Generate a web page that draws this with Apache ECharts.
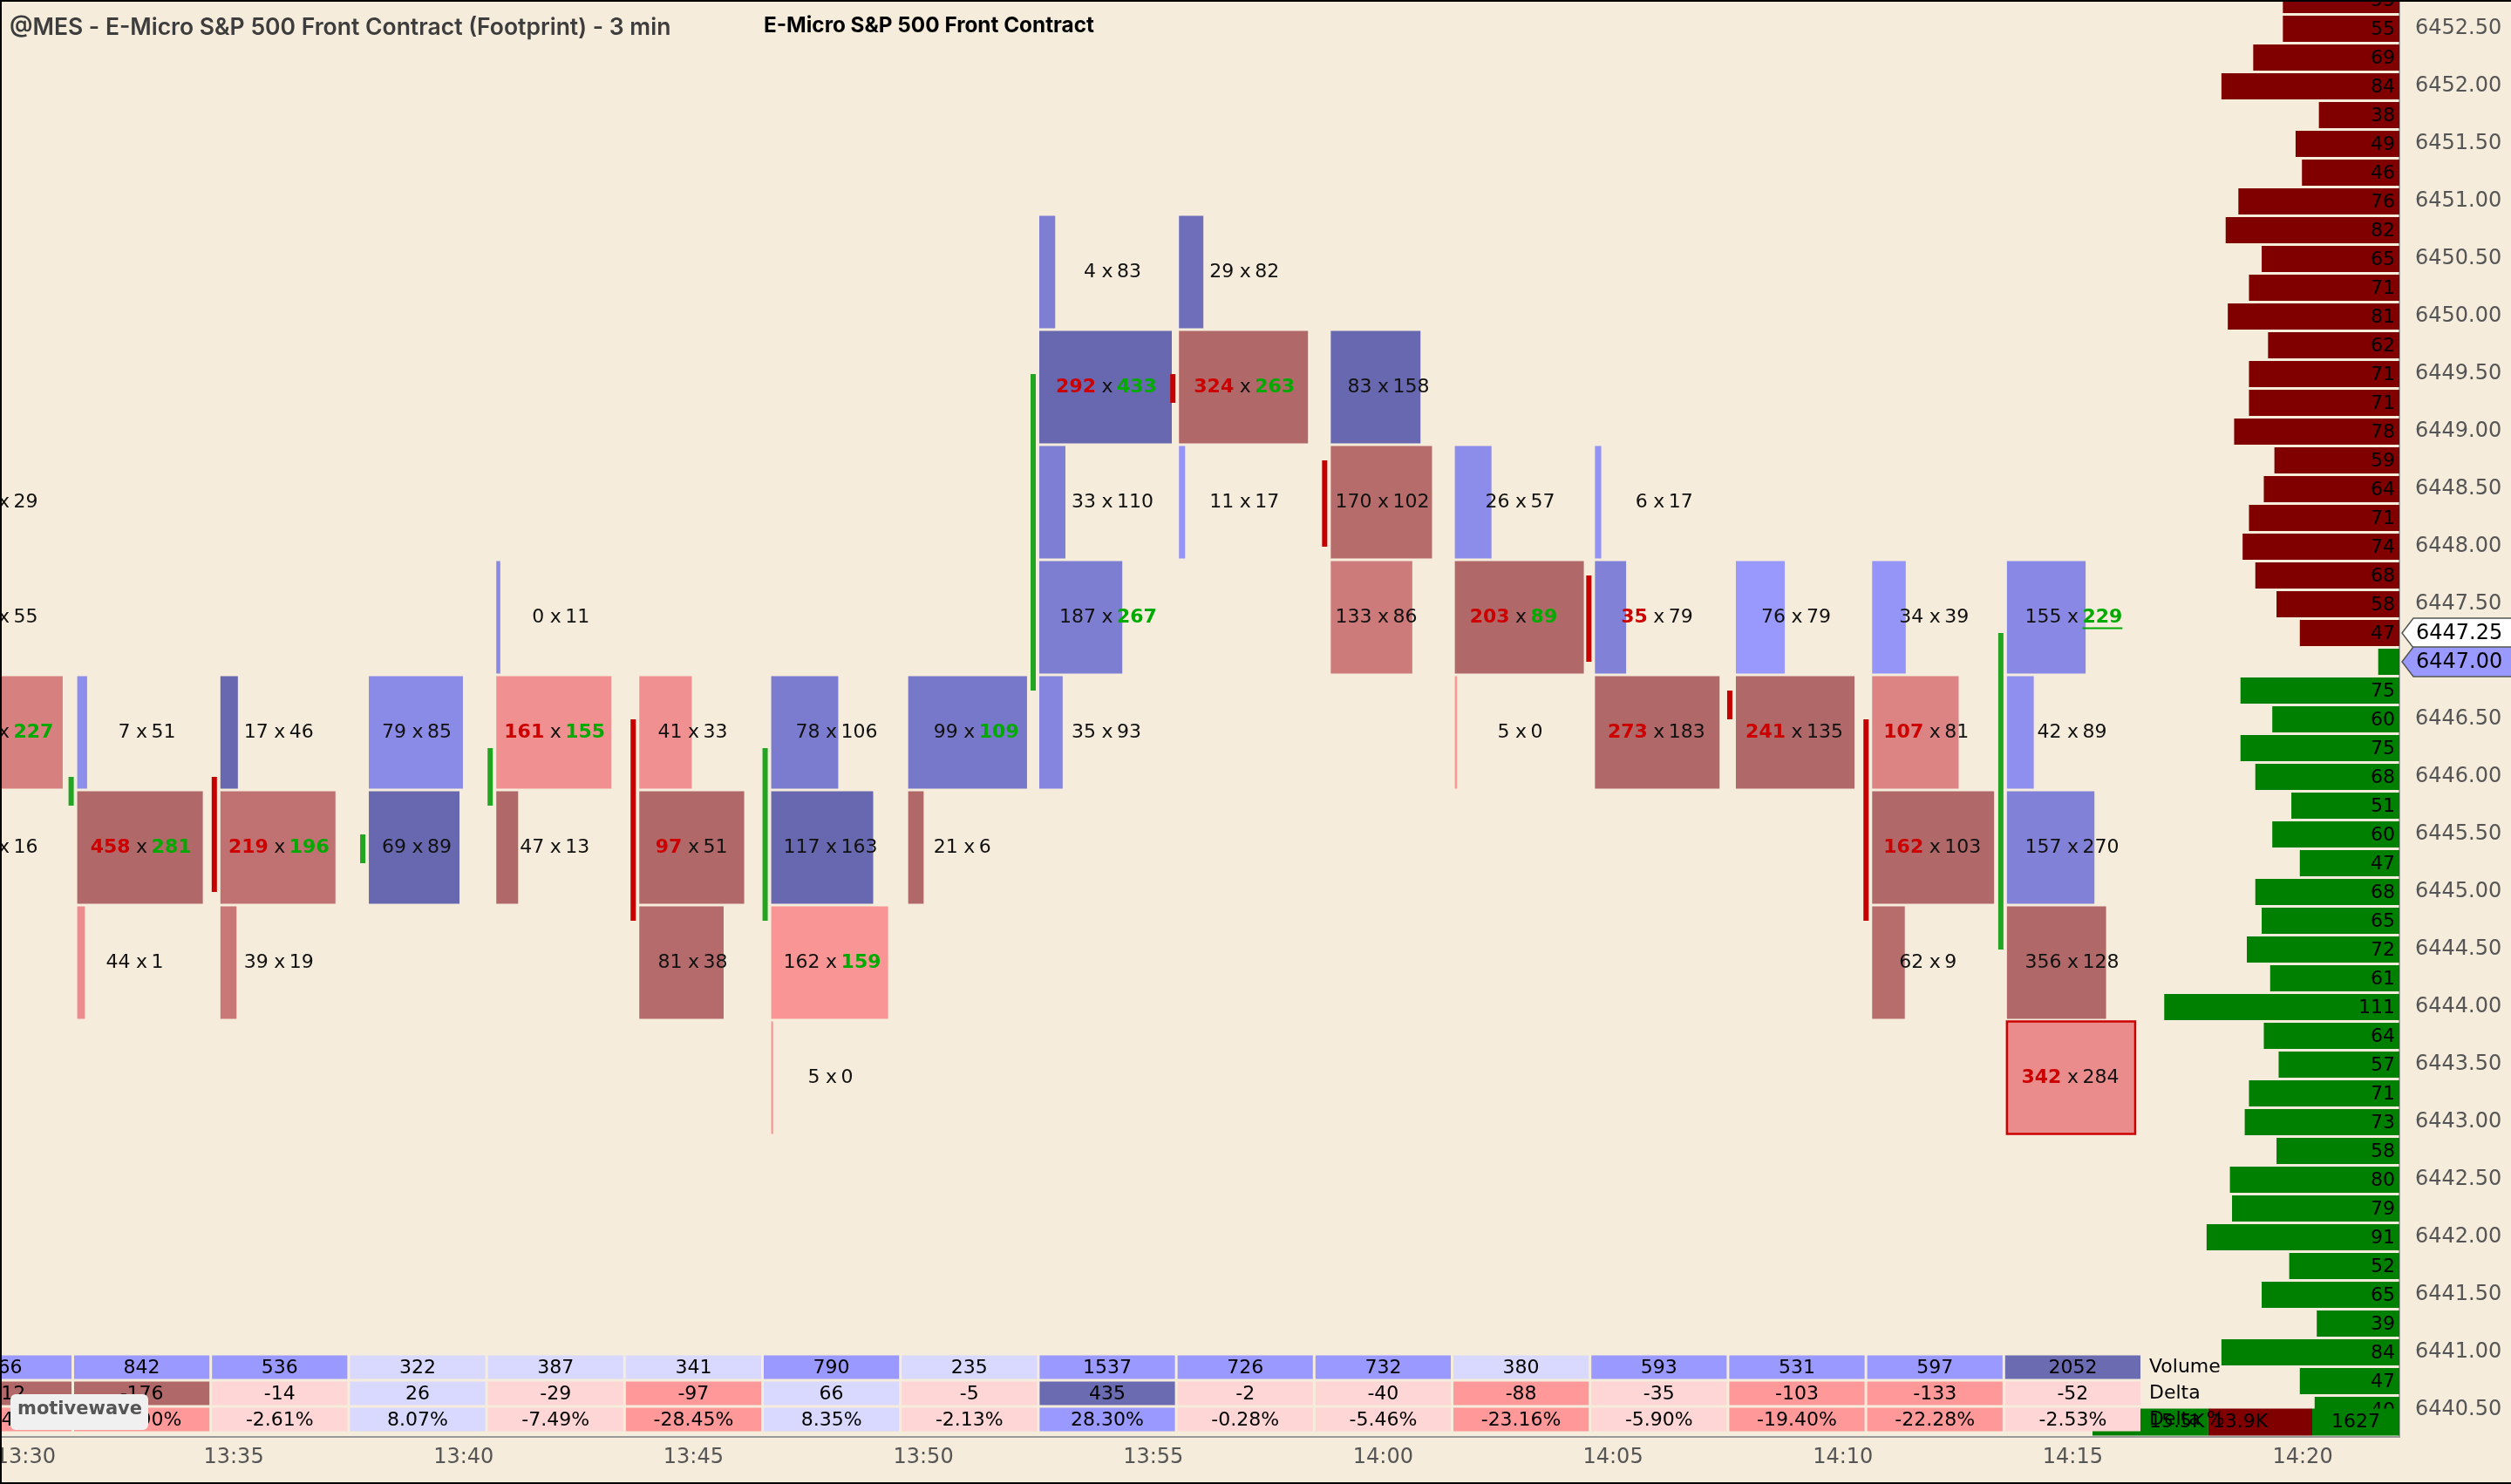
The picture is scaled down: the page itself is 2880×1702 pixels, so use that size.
<!DOCTYPE html>
<html>
<head>
    <title>@MES - E-Micro S&amp;P 500 Front Contract (Footprint) - 3 min</title>
    <meta http-equiv="content-type" content="text/html; charset=utf-8"/>
    <script src="https://cdn.jsdelivr.net/npm/echarts@6.0.0/dist/echarts.min.js"></script>
    <style>
        html, body { margin: 0; padding: 0; background: #f5ecdb; overflow: hidden; }
        #main { width: 100vw; height: 100vh; }
    </style>
</head>
<body>
<div id="main"></div>
<script type="text/javascript">

    // 3 minute bars
    var times = ['13:30', '13:33', '13:36', '13:39', '13:42', '13:45', '13:48', '13:51',
                 '13:54', '13:57', '14:00', '14:03', '14:06', '14:09', '14:12', '14:15'];

    // lowest footprint row of each bar (one row = 1 point = 4 ticks)
    var lowRow = [6445, 6444, 6444, 6445, 6445, 6444, 6443, 6445, 6446, 6448, 6447, 6446, 6446, 6446, 6444, 6443];

    // bid / ask volume of each row, lowest row first
    var bidVol = [
        [99, 269, 90, 81],
        [44, 458, 7],
        [39, 219, 17],
        [69, 79],
        [47, 161, 0],
        [81, 97, 41],
        [5, 162, 117, 78],
        [21, 99],
        [35, 187, 33, 292, 4],
        [11, 324, 29],
        [133, 170, 83],
        [5, 203, 26],
        [273, 35, 6],
        [241, 76],
        [62, 162, 107, 34],
        [342, 356, 157, 42, 155]
    ];
    var askVol = [
        [16, 227, 55, 29],
        [1, 281, 51],
        [19, 196, 46],
        [89, 85],
        [13, 155, 11],
        [38, 51, 33],
        [0, 159, 163, 106],
        [6, 109],
        [93, 267, 110, 433, 83],
        [17, 263, 82],
        [86, 102, 158],
        [0, 89, 57],
        [183, 79, 17],
        [135, 79],
        [9, 103, 81, 39],
        [284, 128, 270, 89, 229]
    ];

    var openPx  = [6447.75, 6445.75, 6446.00, 6445.25, 6445.75, 6446.50, 6444.75, 6446.25,
                   6446.75, 6449.50, 6448.75, 6447.75, 6447.75, 6446.75, 6446.50, 6444.50];
    var closePx = [6445.75, 6446.00, 6445.00, 6445.50, 6446.25, 6444.75, 6446.25, 6446.25,
                   6449.50, 6449.25, 6448.00, 6447.75, 6447.00, 6446.50, 6444.75, 6447.25];

    // row volume that fills a whole column, per bar
    var fullColumnVol = [542, 780, 478, 231, 364, 187, 364, 232, 725, 603, 356, 300, 485, 420, 288, 647];

    // session volume profile, one value per tick from 6452.75 down to 6440.50
    var profileTop = 6452.75;
    var profileVol = [55, 55, 69, 84, 38, 49, 46, 76, 82, 65, 71, 81, 62, 71, 71, 78, 59, 64, 71, 74, 68, 58, 47,
                      10, 75, 60, 75, 68, 51, 60, 47, 68, 65, 72, 61, 111, 64, 57, 71, 73, 58, 80, 79, 91, 52,
                      65, 39, 84, 47, 40];

    var lastPrice = 6447.25;
    var bidPrice = 6447.00;
    var sessionAsk = 15500;
    var sessionBid = 13900;
    var sessionDelta = 1627;

    var timeTicks = ['13:30', '13:35', '13:40', '13:45', '13:50', '13:55', '14:00', '14:05', '14:10', '14:15', '14:20'];
    var priceTicks = [6440.5, 6441, 6441.5, 6442, 6442.5, 6443, 6443.5, 6444, 6444.5, 6445, 6445.5, 6446,
                      6446.5, 6447, 6447.5, 6448, 6448.5, 6449, 6449.5, 6450, 6450.5, 6451, 6451.5, 6452, 6452.5];
    var rowNames = ['Volume', 'Delta', 'Delta %'];

    // ---- layout (pixels of a 2880 wide frame) ----
    var K = window.innerWidth / 2880;
    function S(v) { return v * K; }
    var FONT = 'DejaVu Sans';
    var COL = 158.2, X0 = 4.4, PLOT_W = 2752, PLOT_H = 1648, PT = 132, FULL_W = 152;
    var xMin = -X0 / COL, xMax = xMin + PLOT_W / COL;
    var yMax = 6452.75, yMin = yMax - PLOT_H / PT;
    var profMax = PLOT_W / 2.43;

    function minutesOf(t) { var p = t.split(':'); return (+p[0]) * 60 + (+p[1]); }
    var t0 = minutesOf(times[0]);
    var timeTickPos = timeTicks.map(function (t) { return (minutesOf(t) - t0) / 3; });

    var BLUE_L = [153, 153, 255], BLUE_D = [104, 104, 176];
    var RED_L = [255, 152, 152], RED_D = [176, 104, 104];
    function mix(a, b, t) {
        return 'rgb(' + [0, 1, 2].map(function (k) { return Math.round(a[k] + (b[k] - a[k]) * t); }).join(',') + ')';
    }

    // ---- footprint cells ----
    var cells = [];
    var blockFrac = [];
    var last = times.length - 1;
    for (var i = 0; i < times.length; i++) {
        var b = bidVol[i], a = askVol[i];
        var vols = b.map(function (v, k) { return v + a[k]; });
        var maxVol = Math.max.apply(null, vols);
        var maxAbs = Math.max.apply(null, b.map(function (v, k) { return Math.abs(a[k] - v); }));
        var poc = vols.indexOf(maxVol);
        blockFrac.push(maxVol / fullColumnVol[i]);
        for (var k = 0; k < b.length; k++) {
            var d = a[k] - b[k];
            var askAbove = a[k + 1], bidBelow = b[k - 1];
            cells.push({
                bar: i,
                row: lowRow[i] + k,
                bid: b[k],
                ask: a[k],
                d: d,
                frac: vols[k] / fullColumnVol[i],
                t: maxAbs ? Math.abs(d) / maxAbs : 0,
                bidImb: askAbove !== undefined && askAbove > 0 && b[k] >= 2 * askAbove,
                askImb: bidBelow !== undefined && bidBelow > 0 && a[k] >= 2 * bidBelow,
                poc: i === last && k === poc,
                underline: i === last && Math.floor(closePx[i]) === lowRow[i] + k
            });
        }
    }

    var measureCtx = document.createElement('canvas').getContext('2d');
    function textWidth(str, bold) {
        measureCtx.font = (bold ? 'bold ' : '') + S(22) + 'px "' + FONT + '"';
        return measureCtx.measureText(str).width;
    }

    function txt(text, x, y, align, fill, bold, size) {
        return {
            type: 'text',
            style: {
                text: String(text), x: x, y: y, align: align, verticalAlign: 'middle',
                fill: fill, fontSize: S(size || 22), fontFamily: FONT, fontWeight: bold ? 'bold' : 'normal'
            }
        };
    }

    function blockLeft(cx, bar) {
        return cx - blockFrac[bar] * S(FULL_W) / 2 - S(2);
    }

    function renderCell(params, api) {
        var c = cells[params.dataIndex];
        var cx = api.coord([c.bar, c.row])[0];
        var yTop = api.coord([c.bar, c.row + 0.875])[1];
        var yBot = api.coord([c.bar, c.row - 0.125])[1];
        var left = blockLeft(cx, c.bar);
        var cy = (yTop + yBot) / 2 - S(1);
        var fill = c.d >= 0 ? mix(BLUE_L, BLUE_D, c.t) : mix(RED_L, RED_D, c.t);
        var children = [{
            type: 'rect',
            shape: { x: left, y: yTop, width: c.frac * S(FULL_W), height: yBot - yTop - S(3) },
            style: c.poc ? { fill: fill, stroke: '#cc0000', lineWidth: S(2.5) } : { fill: fill }
        }];
        children.push(txt(c.bid, cx - S(13), cy, 'right', c.bidImb ? '#cc0000' : '#111', c.bidImb));
        children.push(txt('x', cx, cy, 'center', '#111', false));
        children.push(txt(c.ask, cx + S(11), cy, 'left', c.askImb ? '#00aa00' : '#111', c.askImb));
        if (c.underline) {
            var w = textWidth(String(c.ask), c.askImb);
            children.push({
                type: 'line',
                shape: { x1: cx + S(11), y1: cy + S(12), x2: cx + S(11) + w, y2: cy + S(12) },
                style: { stroke: c.askImb ? '#00aa00' : '#111', lineWidth: S(2) }
            });
        }
        return { type: 'group', children: children };
    }

    function renderCandle(params, api) {
        var i = api.value(0), o = api.value(1), c = api.value(2);
        if (o === c) return null;
        var p1 = api.coord([i, o]), p2 = api.coord([i, c]);
        var left = blockLeft(p1[0], i);
        return {
            type: 'rect',
            shape: { x: left - S(10), y: Math.min(p1[1], p2[1]), width: S(6), height: Math.abs(p2[1] - p1[1]) },
            style: { fill: c > o ? '#22a622' : '#c40000' }
        };
    }

    function renderProfile(params, api) {
        var vol = api.value(0), price = api.value(1);
        var p0 = api.coord([0, price]), p1 = api.coord([vol, price]);
        var h = S(30);
        var children = [{
            type: 'rect',
            shape: { x: p1[0], y: p0[1] - h / 2, width: p0[0] - p1[0], height: h },
            style: { fill: price > bidPrice ? '#800000' : '#008000' }
        }];
        if (vol >= 20) children.push(txt(vol, p0[0] - S(5), p0[1] + S(1), 'right', '#000', false));
        return { type: 'group', children: children };
    }

    function renderMarker(params, api) {
        var price = api.value(1);
        var p = api.coord([0, price]);
        var x = p[0], y = p[1], h = S(17), right = api.getWidth() + S(4);
        return {
            type: 'group',
            children: [{
                type: 'polygon',
                shape: { points: [[x + S(3), y], [x + S(16), y - h], [right, y - h], [right, y + h], [x + S(16), y + h]] },
                style: { fill: price === bidPrice ? '#9999ff' : '#ffffff', stroke: '#555', lineWidth: S(1.5) }
            }, txt(price.toFixed(2), x + S(19), y + S(1), 'left', '#000', false, 24)]
        };
    }

    // ---- bottom table ----
    function shade(v, lo, hi, pos) {
        var a = Math.abs(v);
        if (pos) return a >= hi ? '#6b6bb2' : (a >= lo ? '#9999ff' : '#d9d9ff');
        return a >= hi ? '#b06868' : (a >= lo ? '#ff9999' : '#ffd6d6');
    }
    var tableCells = [];
    for (var j = 0; j < times.length; j++) {
        var bs = bidVol[j].reduce(function (s, v) { return s + v; }, 0);
        var as = askVol[j].reduce(function (s, v) { return s + v; }, 0);
        var vol = bs + as, delta = as - bs, pct = delta / vol * 100;
        tableCells.push({ bar: j, row: 0, text: String(vol), fill: shade(vol, 500, 2000, true) });
        tableCells.push({ bar: j, row: 1, text: String(delta), fill: shade(delta, 80, 150, delta >= 0) });
        tableCells.push({ bar: j, row: 2, text: pct.toFixed(2) + '%', fill: shade(pct, 10, 30, pct >= 0) });
    }

    function renderTable(params, api) {
        var c = tableCells[params.dataIndex];
        var p = api.coord([c.bar, c.row]);
        var colW = api.size([1, 0])[0], rowH = api.size([0, 1])[1];
        return {
            type: 'group',
            children: [{
                type: 'rect',
                shape: { x: p[0] - colW / 2 + S(1.5), y: p[1] - rowH / 2 + S(1.5), width: colW - S(3), height: rowH - S(3) },
                style: { fill: c.fill }
            }, txt(c.text, p[0], p[1] + S(1), 'center', '#000', false)]
        };
    }

    function fmtK(v) { return (v / 1000).toFixed(1) + 'K'; }
    function renderTotals(params, api) {
        var cs = params.coordSys;
        var right = cs.x + cs.width;
        var y = api.coord([0, 2])[1] + S(3), h = S(31);
        var span = S(252);
        var askW = sessionAsk / (sessionAsk + sessionBid) * span;
        var bidW = sessionBid / (sessionAsk + sessionBid) * span;
        var deltaW = S(100);
        var x0 = right - deltaW - bidW - askW;
        return {
            type: 'group',
            children: [
                { type: 'rect', shape: { x: x0, y: y - h / 2, width: askW, height: h }, style: { fill: '#008000' } },
                { type: 'rect', shape: { x: x0 + askW, y: y - h / 2, width: bidW, height: h }, style: { fill: '#800000' } },
                { type: 'rect', shape: { x: x0 + askW + bidW, y: y - h / 2, width: deltaW, height: h }, style: { fill: '#008000' } },
                txt(fmtK(sessionAsk), x0 + S(65), y, 'left', '#000', false),
                txt(fmtK(sessionBid), x0 + askW + S(5), y, 'left', '#000', false),
                txt(sessionDelta, x0 + askW + bidW + deltaW / 2, y, 'center', '#000', false)
            ]
        };
    }

    var profileData = profileVol.map(function (v, k) { return [v, profileTop - k * 0.25]; });

    var myChart = echarts.init(document.getElementById('main'));
    myChart.setOption({
        backgroundColor: '#f5ecdb',
        animation: false,
        title: [{
            text: '@MES - E-Micro S&P 500 Front Contract (Footprint) - 3 min',
            left: S(11), top: S(19), padding: 0,
            textStyle: { fontFamily: 'Inter', fontWeight: 600, fontSize: S(26.5), color: '#3d3d3d' }
        }, {
            text: 'E-Micro S&P 500 Front Contract',
            left: S(876), top: S(18), padding: 0,
            textStyle: { fontFamily: 'Inter', fontWeight: 700, fontSize: S(24.3), color: '#000' }
        }],
        grid: [
            { left: 0, top: 0, width: S(PLOT_W), height: S(PLOT_H), outerBoundsMode: 'none', containLabel: false },
            { left: 0, top: 0, width: S(PLOT_W), height: S(PLOT_H), outerBoundsMode: 'none', containLabel: false },
            { left: 0, top: S(1553), width: S(PLOT_W), height: S(90), outerBoundsMode: 'none', containLabel: false }
        ],
        xAxis: [{
            type: 'value', gridIndex: 0, min: xMin, max: xMax,
            axisLine: { show: true, onZero: false, lineStyle: { color: '#999', width: S(2) } },
            axisTick: { show: false },
            splitLine: { show: false },
            axisLabel: {
                customValues: timeTickPos,
                margin: S(12),
                color: '#555', fontSize: S(24), fontFamily: FONT,
                formatter: function (v) {
                    var k = timeTickPos.indexOf(v);
                    var label = k >= 0 ? timeTicks[k] : '';
                    return k === 0 ? '{first|' + label + '}' : label;
                },
                rich: { first: { padding: [0, 0, 0, S(50)], color: '#555', fontSize: S(24), fontFamily: FONT } }
            }
        }, {
            type: 'value', gridIndex: 1, min: 0, max: profMax, inverse: true, show: false
        }, {
            type: 'value', gridIndex: 2, min: xMin, max: xMax, show: false
        }],
        yAxis: [{
            type: 'value', gridIndex: 0, min: yMin, max: yMax, position: 'right',
            axisLine: { show: true, onZero: false, lineStyle: { color: '#a0a0a0', width: S(2) } },
            axisTick: { show: false },
            splitLine: { show: false },
            axisLabel: {
                customValues: priceTicks,
                margin: S(18),
                color: '#555', fontSize: S(24), fontFamily: FONT,
                formatter: function (v) { return v.toFixed(2); }
            }
        }, {
            type: 'value', gridIndex: 1, min: yMin, max: yMax, show: false
        }, {
            type: 'category', gridIndex: 2, data: rowNames, inverse: true, position: 'right', z: 10,
            axisLine: { show: false }, axisTick: { show: false }, splitLine: { show: false },
            axisLabel: { inside: true, margin: S(287), align: 'left', color: '#000', fontSize: S(22), fontFamily: FONT }
        }],
        series: [{
            type: 'custom', name: 'profile', xAxisIndex: 1, yAxisIndex: 1, z: 1, clip: true,
            renderItem: renderProfile, data: profileData, encode: { x: 0, y: 1 }
        }, {
            type: 'custom', name: 'footprint', xAxisIndex: 0, yAxisIndex: 0, z: 2, clip: true,
            renderItem: renderCell,
            data: cells.map(function (c) { return [c.bar, c.row + 0.375]; }),
            encode: { x: 0, y: 1 }
        }, {
            type: 'custom', name: 'candles', xAxisIndex: 0, yAxisIndex: 0, z: 3, clip: true,
            renderItem: renderCandle,
            data: times.map(function (t, i) { return [i, openPx[i], closePx[i]]; }),
            encode: { x: 0, y: [1, 2] }
        }, {
            type: 'custom', name: 'totals', xAxisIndex: 2, yAxisIndex: 2, z: 3, clip: false,
            renderItem: renderTotals, data: [[xMax, 2]], encode: { x: 0, y: 1 }
        }, {
            type: 'custom', name: 'table', xAxisIndex: 2, yAxisIndex: 2, z: 4, clip: false,
            renderItem: renderTable,
            data: tableCells.map(function (c) { return [c.bar, c.row]; }),
            encode: { x: 0, y: 1 }
        }, {
            type: 'custom', name: 'markers', xAxisIndex: 1, yAxisIndex: 1, z: 6, clip: false,
            renderItem: renderMarker,
            data: [[0, lastPrice], [0, bidPrice]],
            encode: { x: 0, y: 1 }
        }],
        graphic: [{
            type: 'rect', z: 50, left: S(12), top: S(1599),
            shape: { x: 0, y: 0, width: S(158), height: S(41), r: S(6) },
            style: { fill: '#f0f0f0' }
        }, {
            type: 'text', z: 51, left: S(20), top: S(1606),
            style: { text: 'motivewave', fill: '#555', fontSize: S(21), fontWeight: 'bold', fontFamily: FONT }
        }, {
            type: 'line', z: 50, shape: { x1: 0, y1: S(1), x2: S(2880), y2: S(1) },
            style: { stroke: '#000', lineWidth: S(2) }
        }, {
            type: 'line', z: 50, shape: { x1: S(1), y1: 0, x2: S(1), y2: S(1702) },
            style: { stroke: '#000', lineWidth: S(2) }
        }, {
            type: 'line', z: 50, shape: { x1: 0, y1: S(1701), x2: S(2880), y2: S(1701) },
            style: { stroke: '#000', lineWidth: S(2) }
        }]
    });
</script>
</body>
</html>
